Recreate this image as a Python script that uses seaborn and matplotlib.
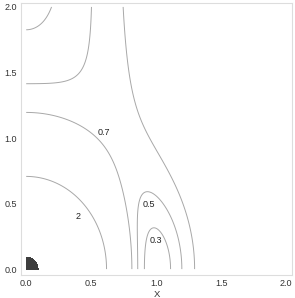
import numpy as np
import matplotlib
matplotlib.use("Agg")
import matplotlib.pyplot as plt
import seaborn as sns

# contour levels and labels
line_levels = [0.3, 0.5, 0.7, 2]
fill_level = [120, 1e9]
label_texts = ["0.7", "2", "0.5", "0.3"]
label_positions = [(0.60, 1.04), (0.40, 0.40), (0.94, 0.49), (1.00, 0.22)]
x_ticks = [0.0, 0.5, 1.0, 1.5, 2.0]
y_ticks = [0.0, 0.5, 1.0, 1.5, 2.0]

# field: point source at origin plus opposing linear term (|F|)
xs = np.linspace(0, 2, 501)
ys = np.linspace(0, 2, 501)
X, Y = np.meshgrid(xs, ys)
with np.errstate(divide="ignore", invalid="ignore"):
    R3 = (X**2 + Y**2) ** 1.5
    FX = X / R3 - X
    FY = Y / R3
    F = np.sqrt(FX**2 + FY**2)
F = np.where(np.isfinite(F), F, 1e8)

sns.set_theme(style="white")
plt.rcParams["font.family"] = ["Liberation Sans", "DejaVu Sans"]

fig = plt.figure(figsize=(2.95, 2.98), dpi=100)
ax = fig.add_axes([21 / 295, 1 - 275 / 298, 271 / 295, 272 / 298])

ax.contourf(X, Y, F, levels=fill_level, colors=["#3d3d3d"])
cs = ax.contour(X, Y, F, levels=line_levels, colors="#a8a8a8", linewidths=0.7)
for txt, (lx, ly) in zip(label_texts, label_positions):
    ax.text(lx, ly, txt, fontsize=6.5, color="#222222", ha="center", va="center")

ax.set_xlim(-0.04, 2.045)
ax.set_ylim(-0.045, 2.03)
ax.set_xticks(x_ticks)
ax.set_yticks(y_ticks)
ax.tick_params(labelsize=6.5, colors="#333333", length=0, pad=3)
ax.set_xlabel("X", fontsize=6.8, color="#333333", labelpad=1)
ax.set_ylabel("y", fontsize=6.8, color="#333333", labelpad=3)
for s in ax.spines.values():
    s.set_color("#dddddd")
    s.set_linewidth(0.8)

fig.savefig("out.png", dpi=100)
